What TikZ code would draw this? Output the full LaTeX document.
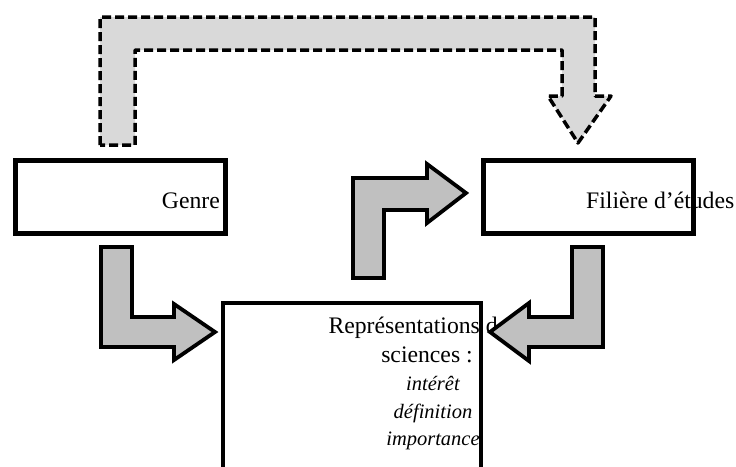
\documentclass[tikz,border=0pt]{standalone}
\usepackage{fontspec}
\setmainfont{Liberation Serif}
\definecolor{arrowgray}{HTML}{C0C0C0}
\definecolor{dashgray}{HTML}{D9D9D9}
\begin{document}
\begin{tikzpicture}[x=1pt,y=-1pt,
  boxframe/.style={draw, line width=4.5pt, inner sep=0pt},
  blockarrow/.style={draw, line width=3.8pt, fill=arrowgray, line join=miter},
  dasharrow/.style={draw, line width=3.5pt, fill=dashgray, dash pattern=on 9pt off 4pt, line join=round},
  lbl/.style={inner sep=0pt, font=\fontsize{23.7pt}{28pt}\selectfont},
  ilbl/.style={inner sep=0pt, font=\fontsize{20.5pt}{24pt}\selectfont\itshape}]
\useasboundingbox (0,0) rectangle (736,466);
\clip (0,0) rectangle (736,466);
% texts
\node[lbl, anchor=base east] (genre) at (220,208) {Genre};
\node[lbl, anchor=base west] (filiere) at (586,208) {Filière d’études};
\node[lbl, anchor=base] (r1) at (423,333) {Représentations des};
\node[lbl, anchor=base] (r2) at (427,362) {sciences :};
\node[ilbl, anchor=base] (r3) at (433,390) {intérêt};
\node[ilbl, anchor=base] (r4) at (433,418) {définition};
\node[ilbl, anchor=base] (r5) at (433,445) {importance};
% boxes
\node[boxframe, anchor=north west, minimum width=210pt, minimum height=73pt] (gbox) at (13,158) {};
\node[boxframe, anchor=north west, minimum width=210pt, minimum height=73pt] (fbox) at (481,158) {};
\draw[line width=4.5pt] (223,480) |- (481,303) -- (481,480);
% dashed arrow
\draw[dasharrow] (100,145) -- (100,17) -- (595,17) -- (595,96) -- (611,96) -- (578,143) -- (548,96) -- (562,96) -- (562,50) -- (135,50) -- (135,145) -- cycle;
% block arrows
\draw[blockarrow] (101,247) -- (132,247) -- (132,317) -- (174,317) -- (174,304) -- (215,332) -- (174,360) -- (174,347) -- (101,347) -- cycle;
\draw[blockarrow] (353,278) -- (353,178) -- (427,178) -- (427,164) -- (466,193) -- (427,223) -- (427,210) -- (384,210) -- (384,278) -- cycle;
\draw[blockarrow] (603,247) -- (572,247) -- (572,317) -- (529,317) -- (529,303) -- (490,332) -- (529,361) -- (529,347) -- (603,347) -- cycle;
\end{tikzpicture}
\end{document}
